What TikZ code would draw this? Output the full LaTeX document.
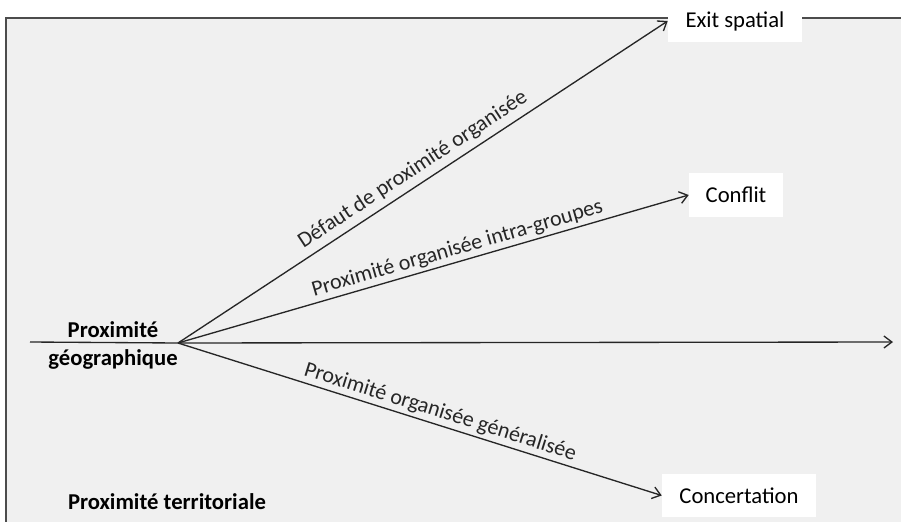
\documentclass[tikz,border=0pt]{standalone}
\usepackage{fontspec}
\setmainfont{Carlito}
\usetikzlibrary{arrows.meta,positioning,calc}

\begin{document}
\begin{tikzpicture}[x=0.75pt,y=-0.75pt,>={Straight Barb[length=6pt,width=9pt]},
  box/.style={fill=white,inner sep=0pt,font=\fontsize{17}{19}\selectfont},
  lbl/.style={font=\fontsize{16.5}{19}\selectfont,sloped,above,inner sep=2pt},
  fleche/.style={->,line width=1pt,black!85}]
\useasboundingbox (0,0) rectangle (901,522);
% ---- cadre: proximite territoriale ----
\fill[gray!12] (6,18) rectangle (901,522);
\draw[gray!60!black,line width=1pt] (901,18) -- (6,18) -- (6,522);
% ---- sorties ----
\node[box,minimum width=100.5pt,minimum height=31.5pt] (exit) at (735,21) {Exit spatial};
\node[box,minimum width=70.5pt,minimum height=33pt] (conflit) at (736,195) {Conflit};
\node[box,minimum width=115.5pt,minimum height=32pt] (concert) at (739,495.5) {Concertation};
% ---- axe de la proximite geographique ----
\coordinate (o) at (178,343);
\coordinate (w) at (30,342);
\coordinate (e) at (893,342);
\draw[black!85,line width=1pt] (w) -- (o);
\draw[fleche] (o) -- (e);
\node[font=\fontsize{17}{21}\selectfont\bfseries,align=center] (geo) at (113,345) {Proximité\\géographique};
\node[font=\fontsize{17}{19}\selectfont\bfseries] (terr) at (167,502) {Proximité territoriale};
% ---- les trois cas ----
\draw[fleche] (o) -- (exit.west) node[lbl,pos=0.497,inner sep=4pt] {Défaut de proximité organisée};
\draw[fleche] (o) -- (conflit.west) node[lbl,pos=0.554] {Proximité organisée intra-groupes};
\draw[fleche] (o) -- (concert.west) node[lbl,pos=0.534] {Proximité organisée généralisée};
\end{tikzpicture}
\end{document}
